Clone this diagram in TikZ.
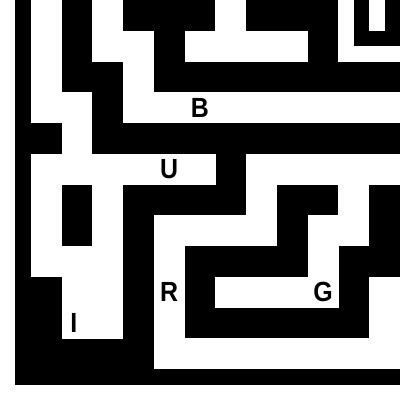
\documentclass[tikz,border=0pt]{standalone}
\usepackage{fontspec}
\usepackage{graphicx}
\newfontfamily\lblfont{Liberation Sans}
\newcommand\mzlbl[1]{\scalebox{0.9}[1]{#1}}
\begin{document}
\begin{tikzpicture}[x=0.4cm,y=-0.4cm,
  lbl/.style={font=\lblfont\bfseries\fontsize{20.5}{20.5}\selectfont, inner sep=0pt, text=black},
  passage/.style={fill=white}]
\useasboundingbox (0,0) rectangle (26,26);
\fill[white] (0,0) rectangle (26,26);
\fill[black] (1,0) rectangle (26,25);
\foreach \r/\cols in {0/{0,2,6},1/{0,2,3,5,6,7,8},2/{0,3},3/{0,1,3,4,5,6,7,8,9,10,11},4/{1},5/{0,1,2,3,4,5,7,8,9,10,11},6/{0,2,7,10},7/{0,2,4,5,6,7,9,10},8/{0,1,2,4,9},9/{1,2,4,6,7,8,9,11},10/{1,2,4,11},11/{4,5,6,7,8,9,10,11}}{
  \foreach \c in \cols {
    \fill[passage] ({2+2*\c},{2*\r}) rectangle ++(2.01,2.01);
  }
}
\fill[passage] (22,0) rectangle (23,4);
\fill[passage] (22.99,3) rectangle (26,4);
\fill[passage] (24,0) rectangle (25,2);
\node[lbl] (B) at (13,7) {\mzlbl{B}};
\node[lbl] (U) at (11,11) {\mzlbl{U}};
\node[lbl] (R) at (11,19) {\mzlbl{R}};
\node[lbl] (G) at (21,19) {\mzlbl{G}};
\node[lbl] (I) at (4.8,21) {\mzlbl{I}};
\end{tikzpicture}
\end{document}
